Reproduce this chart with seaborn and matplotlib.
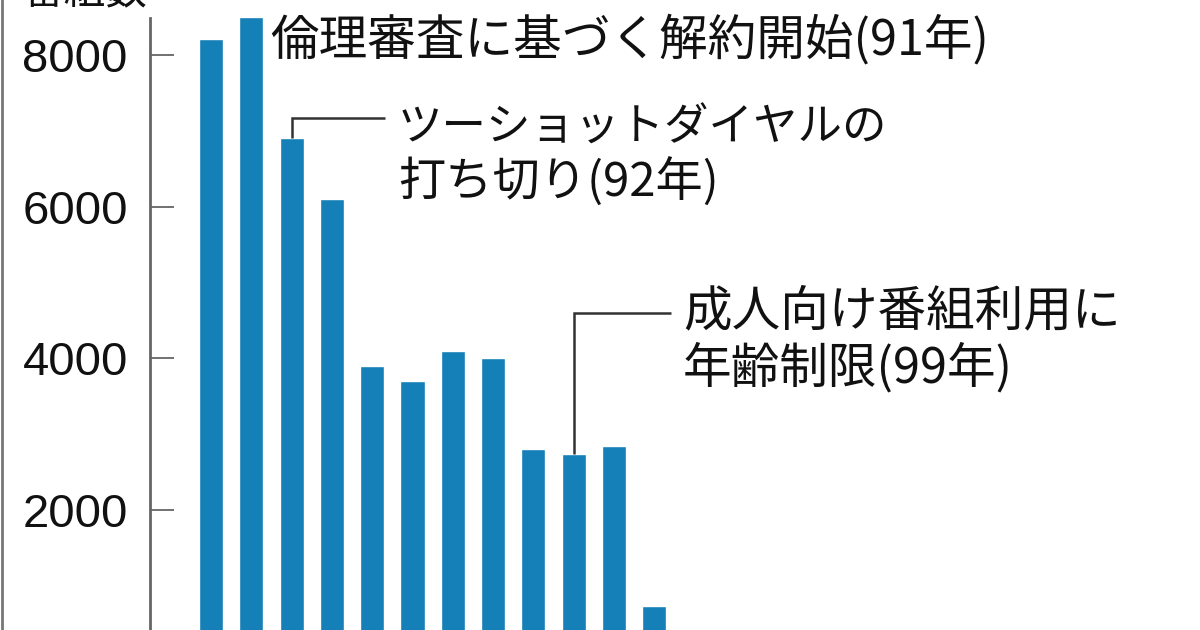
import matplotlib
matplotlib.use("Agg")
import matplotlib.pyplot as plt
import seaborn as sns
import pandas as pd
from matplotlib.lines import Line2D

years = ["90", "91", "92", "93", "94", "95", "96", "97", "98", "99", "00", "01"]
programs = [8200, 8500, 6900, 6100, 3900, 3700, 4100, 4000, 2800, 2740, 2850, 740]
yticks = [0, 2000, 4000, 6000, 8000]
title_text = "番組数"
note1 = ["倫理審査に基づく解約開始(91年)"]
note2 = ["ツーショットダイヤルの", "打ち切り(92年)"]
note3 = ["成人向け番組利用に", "年齢制限(99年)"]

sns.set_theme(style="white")
plt.rcParams["font.family"] = ["Noto Sans CJK JP", "DejaVu Sans"]

W, H = 1200, 630
fig = plt.figure(figsize=(12, 6.3), dpi=100)
fig.patch.set_facecolor("white")

# axes: left spine at px 150, top at px 18, zero at px 662 (below crop)
left_px, top_px, zero_px = 150, 18, 662
ax = fig.add_axes([left_px / W, (H - zero_px) / H, (W - left_px) / W, (zero_px - top_px) / H])
ax.set_facecolor("none")

df = pd.DataFrame({"year": years, "n": programs})
sns.barplot(data=df, x="year", y="n", color="#1580b8", saturation=1, width=0.6,
            ax=ax, order=years)

px_per_unit = 40.3
x0_px = 211
ax.set_xlim(-(x0_px - left_px) / px_per_unit, (W - x0_px) / px_per_unit)
scale = (zero_px - top_px) / 8483.0  # px per value unit
ax.set_ylim(0, 8483)

for s in ["top", "right", "bottom"]:
    ax.spines[s].set_visible(False)
ax.spines["left"].set_color("#666666")
ax.spines["left"].set_linewidth(2)

ax.set_yticks(yticks)
ax.set_yticklabels([str(v) for v in yticks])
ax.tick_params(axis="y", left=True, direction="in", length=17, width=1.3, color="#666666",
               pad=16, labelsize=34)
for lab in ax.get_yticklabels():
    lab.set_family(["Liberation Sans Narrow", "Liberation Sans", "DejaVu Sans"])
    lab.set_color("#111111")
# year labels sit below the cropped area, as in the source chart
ax.tick_params(axis="x", length=0, labelsize=28, colors="#111111", pad=8)
ax.set_xlabel("")
ax.set_ylabel("")


def px2val(py):
    return (zero_px - py) / scale


def px2x(px):
    return (px - x0_px) / px_per_unit


fam = ["Noto Sans CJK JP", "DejaVu Sans"]
txt_kw = dict(color="#111111", va="center", ha="left", family=fam)

# annotation 1
ax.text(px2x(270), px2val(40), note1[0], fontsize=35, **txt_kw)

# annotation 2 with leader line from bar index 2
i2 = 2
yl2 = px2val(118)
ax.plot([i2, i2, px2x(385)], [programs[i2], yl2, yl2], color="#333333", lw=1.8,
        solid_capstyle="butt", solid_joinstyle="miter")
ax.text(px2x(398), px2val(128), note2[0], fontsize=32, **txt_kw)
ax.text(px2x(398), px2val(183), note2[1], fontsize=34, **txt_kw)

# annotation 3 with leader line from bar index 9
i3 = 9
yl3 = px2val(313)
ax.plot([i3, i3, px2x(671)], [programs[i3], yl3, yl3], color="#333333", lw=1.8,
        solid_capstyle="butt", solid_joinstyle="miter")
ax.text(px2x(683), px2val(312), note3[0], fontsize=35, **txt_kw)
ax.text(px2x(683), px2val(368), note3[1], fontsize=35, **txt_kw)

# title (cut off at top)
fig.text(147 / W, 1 - 12 / H, title_text, fontsize=30, ha="right", va="bottom",
         color="#111111", family=fam)

# frame line at left edge
fig.add_artist(Line2D([2 / W, 2 / W], [0, 1], transform=fig.transFigure,
                      color="#777777", lw=2))

fig.savefig("out.png", dpi=100)
